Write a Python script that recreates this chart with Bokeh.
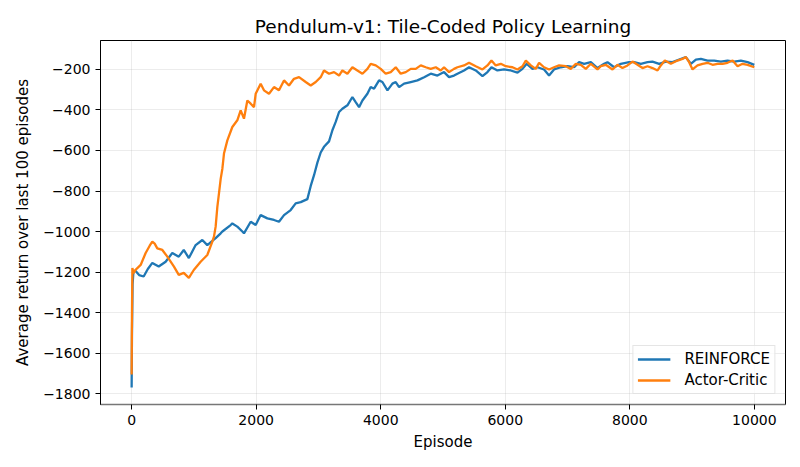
from bokeh.plotting import figure
from bokeh.models import Range1d, FixedTicker, Legend, LegendItem
from bokeh.embed import file_html
from bokeh.resources import INLINE

# REINFORCE: running mean of last 100 episodes
reinforce_ep = [0, 5, 15, 30, 64, 120, 193, 260, 332, 435, 546, 653, 757, 837, 919,
                1028, 1135, 1215, 1349, 1430, 1457, 1590, 1617, 1697, 1778, 1804, 1912,
                1992, 2072, 2180, 2286, 2366, 2447, 2554, 2634, 2715, 2822, 2876, 2929,
                2983, 3036, 3089, 3170, 3224, 3277, 3331, 3384, 3465, 3545, 3598, 3652,
                3706, 3786, 3839, 3893, 3973, 4027, 4108, 4188, 4241, 4295, 4375, 4482,
                4590, 4697, 4803, 4911, 5017, 5097, 5177, 5232, 5338, 5418, 5526, 5634,
                5714, 5778, 5874, 5981, 6088, 6196, 6276, 6345, 6437, 6517, 6623, 6703,
                6783, 6891, 6999, 7106, 7186, 7266, 7374, 7481, 7588, 7641, 7748, 7855,
                7989, 8070, 8177, 8284, 8364, 8471, 8579, 8686, 8793, 8900, 8980, 9061,
                9141, 9248, 9355, 9462, 9569, 9676, 9783, 9891, 9999]
reinforce_ret = [-1770, -1520, -1260, -1195, -1195, -1215, -1222, -1185, -1155, -1173,
                 -1149, -1106, -1124, -1091, -1131, -1067, -1042, -1067, -1033, -1009,
                 -1000, -968, -960, -976, -1000, -1009, -952, -968, -919, -935, -943,
                 -952, -919, -894, -861, -855, -840, -775, -722, -660, -610, -582, -555,
                 -500, -459, -410, -394, -377, -336, -361, -386, -353, -320, -287, -295,
                 -254, -262, -303, -270, -262, -287, -270, -262, -254, -238, -221, -230,
                 -213, -238, -230, -221, -205, -189, -205, -233, -213, -189, -205, -200,
                 -205, -216, -197, -172, -197, -189, -200, -230, -200, -189, -184, -189,
                 -164, -172, -164, -193, -172, -164, -189, -172, -164, -164, -172, -164,
                 -161, -172, -161, -164, -151, -139, -172, -151, -148, -156, -156, -161,
                 -156, -161, -156, -164, -177]

# Actor-Critic
ac_ep = [0, 5, 12, 30, 60, 100, 145, 225, 290, 332, 370, 412, 493, 573, 680, 757, 837,
         919, 998, 1108, 1215, 1296, 1322, 1349, 1376, 1403, 1430, 1457, 1483, 1537,
         1617, 1697, 1751, 1804, 1858, 1912, 1965, 1992, 2072, 2125, 2206, 2286, 2366,
         2447, 2527, 2607, 2688, 2795, 2876, 2956, 3036, 3089, 3170, 3250, 3331, 3384,
         3465, 3545, 3625, 3706, 3786, 3839, 3920, 4000, 4080, 4161, 4241, 4321, 4402,
         4482, 4562, 4643, 4723, 4803, 4884, 4964, 5017, 5097, 5177, 5232, 5338, 5418,
         5526, 5634, 5714, 5778, 5847, 5928, 6008, 6116, 6196, 6276, 6330, 6410, 6490,
         6543, 6623, 6703, 6783, 6864, 6972, 7052, 7133, 7213, 7293, 7374, 7481, 7534,
         7614, 7722, 7802, 7882, 7963, 8043, 8124, 8204, 8284, 8364, 8445, 8498, 8562,
         8659, 8766, 8846, 8900, 8953, 9007, 9087, 9168, 9248, 9328, 9409, 9489, 9569,
         9650, 9730, 9810, 9891, 9999]
ac_ret = [-1706, -1420, -1180, -1205, -1190, -1178, -1165, -1106, -1070, -1050, -1060,
          -1083, -1091, -1124, -1173, -1214, -1204, -1229, -1190, -1149, -1116, -1050,
          -1025, -976, -880, -810, -740, -690, -615, -550, -484, -451, -402, -443, -353,
          -369, -386, -320, -270, -303, -320, -287, -303, -254, -279, -246, -238, -262,
          -279, -262, -238, -205, -221, -213, -230, -205, -221, -189, -205, -221, -197,
          -172, -180, -197, -221, -213, -189, -221, -213, -197, -197, -180, -189, -197,
          -189, -205, -189, -213, -197, -189, -180, -167, -184, -200, -180, -156, -180,
          -172, -184, -189, -200, -184, -156, -180, -197, -167, -189, -200, -189, -180,
          -184, -197, -172, -177, -197, -172, -200, -184, -177, -200, -177, -193, -180,
          -161, -177, -193, -184, -193, -205, -180, -156, -172, -156, -148, -139, -164,
          -200, -180, -172, -167, -177, -172, -172, -167, -156, -184, -172, -177, -189]

x_ticks = [0, 2000, 4000, 6000, 8000, 10000]
y_ticks = [-1800, -1600, -1400, -1200, -1000, -800, -600, -400, -200]

FONT = "DejaVu Sans"

p = figure(frame_width=685, frame_height=364, output_backend="svg", toolbar_location=None,
           title="Pendulum-v1: Tile-Coded Policy Learning",
           x_axis_label="Episode", y_axis_label="Average return over last 100 episodes",
           min_border_left=100, min_border_top=40, min_border_right=12, min_border_bottom=50)
p.x_range = Range1d(-500, 10500)
p.y_range = Range1d(-1854, -57)

r1 = p.line(reinforce_ep, reinforce_ret, line_color="#1f77b4", line_width=2.3)
r2 = p.line(ac_ep, ac_ret, line_color="#ff7f0e", line_width=2.3)

p.title.align = "center"
p.title.text_font = FONT
p.title.text_font_size = "18.5px"
p.title.text_font_style = "normal"
p.title.text_color = "black"
p.title.standoff = 8

p.xaxis.ticker = FixedTicker(ticks=x_ticks)
p.yaxis.ticker = FixedTicker(ticks=y_ticks)
for ax in (p.xaxis, p.yaxis):
    ax.major_label_text_font = FONT
    ax.major_label_text_font_size = "14px"
    ax.major_label_text_color = "black"
    ax.axis_label_text_font = FONT
    ax.axis_label_text_font_size = "15px"
    ax.axis_label_text_font_style = "normal"
    ax.axis_label_text_color = "black"
    ax.major_tick_in = 0
    ax.major_tick_out = 5
    ax.minor_tick_line_color = None
    ax.axis_line_color = "black"
    ax.major_tick_line_color = "black"
p.xaxis.axis_line_color = "#777777"
p.xaxis.axis_line_width = 1.5
p.xaxis.axis_label_standoff = 5
p.yaxis.axis_label_standoff = 8

p.outline_line_color = "black"
p.outline_line_width = 1
p.grid.grid_line_color = "#b0b0b0"
p.grid.grid_line_alpha = 0.3
p.grid.grid_line_width = 0.8

legend = Legend(items=[LegendItem(label="REINFORCE", renderers=[r1]),
                       LegendItem(label="Actor-Critic", renderers=[r2])],
                location="bottom_right")
legend.label_text_font = FONT
legend.label_text_font_size = "15px"
legend.label_text_color = "black"
legend.glyph_width = 33
legend.glyph_height = 16
legend.label_standoff = 14
legend.label_height = 16
legend.spacing = 3
legend.padding = 4
legend.margin = 10
legend.border_line_color = "#cccccc"
legend.background_fill_alpha = 0.8
p.add_layout(legend)

open("out.html", "w").write(file_html(p, INLINE))
